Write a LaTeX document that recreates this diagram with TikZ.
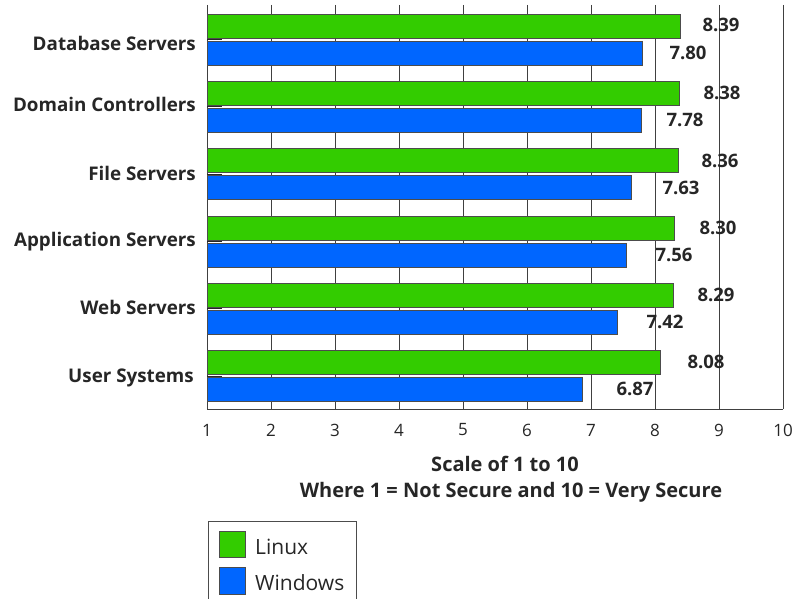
\documentclass[tikz,border=0pt]{standalone}
\usepackage{fontspec}
\setmainfont{Open Sans}
\definecolor{linuxgreen}{HTML}{33CC00}
\definecolor{winblue}{HTML}{0066FF}
\definecolor{inkgray}{HTML}{262626}
\tikzset{
    every node/.style={text=inkgray, inner sep=0pt},
    linuxbar/.style={fill=linuxgreen, draw=black!70, line width=0.8pt},
    winbar/.style={fill=winblue, draw=black!70, line width=0.8pt},
    gridline/.style={draw=black!75, line width=0.7pt},
    cattick/.style={draw=black!85, line width=1pt}
}
\tikzset{
    catlabel/.style={anchor=base east, font=\bfseries\fontsize{18.8}{22}\selectfont},
    vallabel/.style={font=\bfseries\fontsize{18.5}{22}\selectfont},
    ticklabel/.style={font=\fontsize{17}{20}\selectfont},
    titlelabel/.style={anchor=base, font=\bfseries\fontsize{20}{24}\selectfont},
    legendtext/.style={anchor=base west, font=\fontsize{21}{24}\selectfont}
}

\begin{document}
\begin{tikzpicture}[x=1pt, y=-1pt]
	\useasboundingbox (0,0) rectangle (795,599);

	% grid and axes
	\foreach \k in {1,...,9}
		\draw[gridline] ({207+64*\k},5) -- ({207+64*\k},409);
	\draw[gridline] (207,5) -- (207,409) -- (783,409);

	% bars: linux / windows / row
	\foreach \lin/\win/\i in {8.39/7.80/0, 8.38/7.78/1, 8.36/7.63/2,
	                          8.30/7.56/3, 8.29/7.42/4, 8.08/6.87/5} {
		\draw[linuxbar] (207,{14+67.3*\i}) rectangle ({207+64*(\lin-1)},{38+67.3*\i});
		\draw[winbar] (207,{41+67.3*\i}) rectangle ({207+64*(\win-1)},{65+67.3*\i});
		\draw[cattick] (207,{39.5+67.3*\i}) -- (222,{39.5+67.3*\i});
	}

	% category labels
	\node (db) [catlabel] at (196, 51) {Database Servers};
	\node (dc) [catlabel] at (196,112) {Domain Controllers};
	\node (fs) [catlabel] at (196,180) {File Servers};
	\node (as) [catlabel] at (196,246) {Application Servers};
	\node (ws) [catlabel] at (196,314) {Web Servers};
	\node (us) [catlabel] at (194,382) {User Systems};

	% value labels
	\node (lindb) [vallabel] at (721, 25) {8.39};
	\node (windb) [vallabel] at (688, 53) {7.80};
	\node (lindc) [vallabel] at (722, 93) {8.38};
	\node (windc) [vallabel] at (685,120) {7.78};
	\node (linfs) [vallabel] at (720,161) {8.36};
	\node (winfs) [vallabel] at (681,188) {7.63};
	\node (linas) [vallabel] at (718,228) {8.30};
	\node (winas) [vallabel] at (674,255) {7.56};
	\node (linws) [vallabel] at (716,295) {8.29};
	\node (winws) [vallabel] at (665,322) {7.42};
	\node (linus) [vallabel] at (706,362) {8.08};
	\node (winus) [vallabel] at (635,389) {6.87};

	% scale
	\foreach \k in {1,...,10}
		\node (tick\k) [ticklabel] at ({207+64*(\k-1)},430) {\k};
	\node (scale) [titlelabel] at (505,471) {Scale of 1 to 10};
	\node (where) [titlelabel] at (511,497) {Where 1 = Not Secure and 10 = Very Secure};

	% legend
	\draw[draw=black!70, line width=0.8pt] (208,600) |- (356,521) -- (356,600);
	\draw[linuxbar] (219,531) rectangle (245,557);
	\draw[winbar] (219,567) rectangle (245,594);
	\node (linux) [legendtext] at (255,554) {Linux};
	\node (windows) [legendtext] at (255,590) {Windows};
\end{tikzpicture}
\end{document}
